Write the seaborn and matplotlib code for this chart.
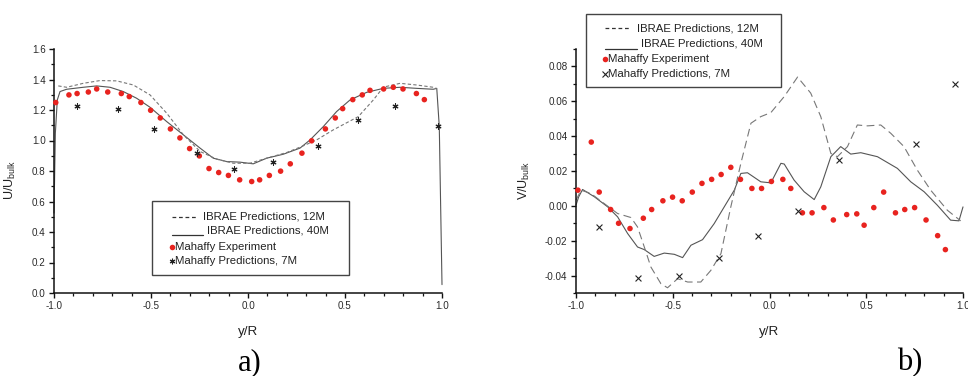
import numpy as np
import pandas as pd
import matplotlib
matplotlib.use("Agg")
import matplotlib.pyplot as plt
import seaborn as sns
from matplotlib.lines import Line2D
from matplotlib.patches import Rectangle

# ---------------- data: panel a) U/U_bulk ----------------
a_exp_x = [-0.991, -0.923, -0.881, -0.823, -0.780, -0.723, -0.653, -0.612, -0.552, -0.502,
           -0.452, -0.400, -0.351, -0.301, -0.251, -0.201, -0.151, -0.101, -0.043, 0.019,
           0.060, 0.110, 0.168, 0.218, 0.278, 0.328, 0.399, 0.450, 0.488, 0.540,
           0.589, 0.629, 0.699, 0.749, 0.799, 0.868, 0.909]
a_exp_y = [1.249, 1.299, 1.308, 1.318, 1.338, 1.318, 1.308, 1.288, 1.249, 1.198,
           1.148, 1.076, 1.017, 0.947, 0.899, 0.816, 0.790, 0.771, 0.742, 0.731,
           0.742, 0.771, 0.799, 0.847, 0.917, 0.998, 1.076, 1.148, 1.209, 1.268,
           1.299, 1.329, 1.338, 1.349, 1.338, 1.308, 1.268]
a_mah_x = [-0.881, -0.670, -0.483, -0.261, -0.072, 0.129, 0.361, 0.569, 0.760, 0.979]
a_mah_y = [1.229, 1.209, 1.078, 0.915, 0.816, 0.858, 0.967, 1.137, 1.229, 1.098]
a_12m_x = [-0.978, -0.935, -0.849, -0.763, -0.677, -0.591, -0.505, -0.419, -0.333, -0.247,
           -0.162, -0.076, 0.010, 0.096, 0.199, 0.285, 0.354, 0.440, 0.569, 0.646,
           0.698, 0.784, 0.869, 0.955, 0.973]
a_12m_y = [1.358, 1.349, 1.375, 1.393, 1.391, 1.364, 1.299, 1.179, 1.037, 0.928,
           0.878, 0.851, 0.851, 0.884, 0.921, 0.965, 1.004, 1.070, 1.157, 1.266,
           1.350, 1.375, 1.364, 1.349, 1.340]
a_40m_x = [-1.000, -0.993, -0.983, -0.969, -0.935, -0.849, -0.780, -0.711, -0.643, -0.574,
           -0.505, -0.419, -0.333, -0.247, -0.179, -0.110, -0.041, 0.027, 0.096, 0.182,
           0.268, 0.320, 0.388, 0.457, 0.526, 0.612, 0.698, 0.784, 0.869, 0.955,
           0.973, 0.986, 1.000]
a_40m_y = [0.524, 1.048, 1.266, 1.321, 1.336, 1.349, 1.358, 1.349, 1.321, 1.277,
           1.218, 1.124, 1.037, 0.950, 0.884, 0.862, 0.858, 0.847, 0.884, 0.910,
           0.950, 1.004, 1.091, 1.190, 1.266, 1.316, 1.342, 1.349, 1.342, 1.336,
           1.342, 1.091, 0.055]

# ---------------- data: panel b) V/U_bulk ----------------
b_exp_x = [-0.990, -0.921, -0.880, -0.821, -0.780, -0.721, -0.652, -0.609, -0.551, -0.501,
           -0.451, -0.399, -0.349, -0.299, -0.250, -0.200, -0.150, -0.091, -0.041, 0.010,
           0.069, 0.110, 0.170, 0.220, 0.281, 0.330, 0.399, 0.451, 0.489, 0.539,
           0.590, 0.651, 0.699, 0.750, 0.809, 0.869, 0.909]
b_exp_y = [0.0090, 0.0366, 0.0079, -0.0021, -0.0100, -0.0130, -0.0071, -0.0021, 0.0029, 0.0050,
           0.0029, 0.0079, 0.0129, 0.0152, 0.0180, 0.0221, 0.0152, 0.0100, 0.0100, 0.0140,
           0.0152, 0.0100, -0.0040, -0.0040, -0.0010, -0.0081, -0.0050, -0.0046, -0.0111, -0.0010,
           0.0079, -0.0040, -0.0021, -0.0010, -0.0081, -0.0171, -0.0251]
b_mah_x = [-0.880, -0.682, -0.470, -0.262, -0.062, 0.148, 0.360, 0.759, 0.959]
b_mah_y = [-0.0121, -0.0412, -0.0403, -0.0301, -0.0173, -0.0031, 0.0265, 0.0357, 0.0698]
b_12m_x = [-1.000, -0.974, -0.923, -0.854, -0.785, -0.716, -0.682, -0.647, -0.613, -0.561,
           -0.527, -0.475, -0.423, -0.355, -0.303, -0.251, -0.200, -0.148, -0.096, -0.045,
           0.007, 0.076, 0.145, 0.213, 0.265, 0.317, 0.351, 0.403, 0.454, 0.506,
           0.575, 0.627, 0.695, 0.764, 0.833, 0.919, 0.988]
b_12m_y = [0.0033, 0.0090, 0.0071, 0.0013, -0.0044, -0.0067, -0.0121, -0.0236, -0.0351, -0.0447,
           -0.0470, -0.0418, -0.0437, -0.0437, -0.0370, -0.0274, -0.0006, 0.0244, 0.0474, 0.0512,
           0.0535, 0.0627, 0.0739, 0.0647, 0.0512, 0.0301, 0.0282, 0.0340, 0.0464, 0.0459,
           0.0464, 0.0416, 0.0340, 0.0205, 0.0090, -0.0025, -0.0086]
b_40m_x = [-1.000, -0.986, -0.966, -0.905, -0.836, -0.785, -0.733, -0.682, -0.647, -0.596,
           -0.544, -0.492, -0.449, -0.406, -0.346, -0.286, -0.234, -0.182, -0.148, -0.114,
           -0.045, 0.007, 0.059, 0.076, 0.127, 0.179, 0.231, 0.265, 0.317, 0.368,
           0.420, 0.472, 0.558, 0.661, 0.730, 0.799, 0.867, 0.936, 0.979, 1.000]
b_40m_y = [0.0004, 0.0052, 0.0094, 0.0052, -0.0006, -0.0063, -0.0159, -0.0236, -0.0251, -0.0290,
           -0.0271, -0.0278, -0.0297, -0.0226, -0.0194, -0.0102, -0.0006, 0.0090, 0.0186, 0.0190,
           0.0138, 0.0132, 0.0244, 0.0240, 0.0148, 0.0081, 0.0036, 0.0109, 0.0282, 0.0340,
           0.0297, 0.0305, 0.0282, 0.0215, 0.0138, 0.0081, 0.0004, -0.0082, -0.0086, -0.0006]

legend_labels = ["IBRAE Predictions, 12M", "IBRAE Predictions, 40M",
                 "Mahaffy Experiment", "Mahaffy Predictions, 7M"]
xticks = [-1.0, -0.5, 0.0, 0.5, 1.0]
a_yticks = [0.0, 0.2, 0.4, 0.6, 0.8, 1.0, 1.2, 1.4, 1.6]
b_yticks = [-0.04, -0.02, 0.00, 0.02, 0.04, 0.06, 0.08]

# ---------------- style ----------------
sns.set_style("ticks")
plt.rcParams["font.family"] = ["Liberation Sans", "DejaVu Sans"]
plt.rcParams["mathtext.fontset"] = "custom"
plt.rcParams["mathtext.rm"] = "Liberation Sans"
plt.rcParams["mathtext.it"] = "Liberation Sans"

RED = "#e8231f"
LINE_C = "#555555"
DASH_C = "#777777"
TXT = "#222222"

fig = plt.figure(figsize=(9.68, 3.76), dpi=100)
axA = fig.add_axes([54 / 968, 83 / 376, 388 / 968, 244 / 376])
axB = fig.add_axes([576 / 968, 83 / 376, 387 / 968, 244 / 376])


def style_axis(ax):
    for s in ["top", "right"]:
        ax.spines[s].set_visible(False)
    for s in ["left", "bottom"]:
        ax.spines[s].set_linewidth(1.1)
        ax.spines[s].set_color("#111111")
    ax.tick_params(which="major", direction="out", length=3.6, width=1.0,
                   labelsize=7.1, labelcolor="#2a2a2a", pad=2.5, color="#111111")
    ax.tick_params(which="minor", direction="out", length=2.2, width=0.9, color="#111111")
    ax.set_xlim(-1.0, 1.0)
    ax.set_xticks(xticks)
    ax.set_xticklabels([f"{v:.1f}" for v in xticks])
    ax.set_xticks(np.arange(-1.0, 1.001, 0.1), minor=True)
    ax.set_xlabel("y/R", fontsize=9.6, color=TXT)
    ax.xaxis.set_label_coords(0.5, -0.135)


def draw_panel(ax, exp_x, exp_y, mah_x, mah_y, x12, y12, x40, y40, mah_marker, mah_s, dash12):
    sns.lineplot(x=x40, y=y40, ax=ax, color=LINE_C, lw=0.8, sort=False,
                 estimator=None, clip_on=False)
    sns.lineplot(x=x12, y=y12, ax=ax, color=DASH_C, lw=0.8, sort=False,
                 estimator=None, clip_on=False)
    ax.lines[-1].set_dashes(dash12)
    sns.scatterplot(x=exp_x, y=exp_y, ax=ax, color=RED, s=16, edgecolor="none",
                    linewidth=0, clip_on=False, zorder=3)
    sns.scatterplot(x=mah_x, y=mah_y, ax=ax, marker=mah_marker, color="#222222",
                    s=mah_s, linewidth=0.8, clip_on=False, zorder=3)


def draw_legend(ax, box, rows, line1, line2, text1_x, text2_x, mark_x, text_mk_x, mah_marker, fs=8.2):
    tr = ax.transAxes
    x0, y0, x1, y1 = box
    ax.add_patch(Rectangle((x0, y0), x1 - x0, y1 - y0, transform=tr, fill=False,
                           edgecolor="#444444", lw=1.0, clip_on=False, zorder=5))
    l1 = Line2D(line1[:2], [rows[0]] * 2, transform=tr, color="#333333", lw=0.9,
                dashes=(3, 2.2), clip_on=False)
    ax.add_line(l1)
    l2 = Line2D(line2[:2], [line2[2]] * 2, transform=tr, color="#333333", lw=0.9, clip_on=False)
    ax.add_line(l2)
    ax.add_line(Line2D([mark_x], [rows[2]], transform=tr, marker="o", color=RED,
                       markersize=4.0, markeredgewidth=0, clip_on=False, linestyle="none"))
    ax.add_line(Line2D([mark_x], [rows[3]], transform=tr, marker=mah_marker, color="#222222",
                       markersize=4.0, markeredgewidth=0.8, clip_on=False, linestyle="none"))
    xs = [text1_x, text2_x, text_mk_x, text_mk_x]
    for lab, xx, yy in zip(legend_labels, xs, rows):
        ax.text(xx, yy, lab, transform=tr, fontsize=fs, color=TXT, va="center",
                ha="left", zorder=6)


# ---- panel a ----
draw_panel(axA, a_exp_x, a_exp_y, a_mah_x, a_mah_y, a_12m_x, a_12m_y, a_40m_x, a_40m_y,
           (6, 2, 0), 14, (3, 2))
style_axis(axA)
axA.set_ylim(0.0, 1.6)
axA.set_yticks(a_yticks)
axA.set_yticklabels([f"{v:.1f}" for v in a_yticks])
axA.set_yticks(np.arange(0.0, 1.601, 0.1), minor=True)
axA.set_ylabel("U/U$_{\\mathrm{bulk}}$", fontsize=9, color=TXT)
axA.yaxis.set_label_coords(-0.093, 0.463)
draw_legend(axA, (0.2526, 0.0738, 0.7603, 0.377),
            [0.313, 0.256, 0.190, 0.131],
            (0.303, 0.368), (0.303, 0.383, 0.238),
            0.384, 0.394, 0.303, 0.312, (6, 2, 0))

# ---- panel b ----
draw_panel(axB, b_exp_x, b_exp_y, b_mah_x, b_mah_y, b_12m_x, b_12m_y, b_40m_x, b_40m_y,
           "x", 18, (7, 4))
style_axis(axB)
axB.set_ylim(-0.05, 0.0897)
axB.set_yticks(b_yticks)
axB.set_yticklabels([f"{v:.2f}" for v in b_yticks])
axB.set_yticks(np.arange(-0.05, 0.0901, 0.01), minor=True)
axB.set_ylabel("V/U$_{\\mathrm{bulk}}$", fontsize=9, color=TXT)
axB.yaxis.set_label_coords(-0.114, 0.463)
draw_legend(axB, (0.025, 0.843, 0.531, 1.143),
            [1.085, 1.023, 0.960, 0.899],
            (0.074, 0.139), (0.074, 0.157, 1.001),
            0.157, 0.167, 0.075, 0.083, "x")

# panel captions
fig.text(250 / 968, 1 - 363 / 376, "a)", fontsize=22, family="Liberation Serif",
         ha="center", va="center", color="black")
fig.text(910 / 968, 1 - 363 / 376, "b)", fontsize=22, family="Liberation Serif",
         ha="center", va="center", color="black")

fig.savefig("out.png", dpi=100, facecolor="white")
